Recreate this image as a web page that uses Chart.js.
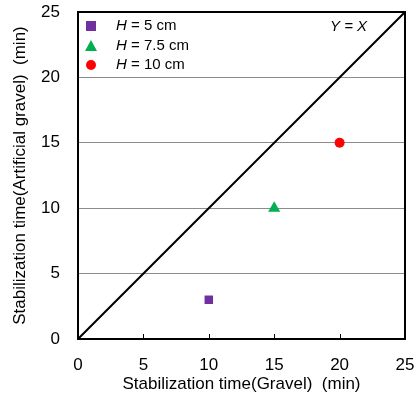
<!DOCTYPE html>
<html>
<head>
<meta charset="utf-8">
<script src="https://cdn.jsdelivr.net/npm/chart.js@4"></script>
<style>
  html, body { margin: 0; padding: 0; background: #fff; }
  #wrap { width: 417px; height: 401px; }
</style>
</head>
<body>
<div id="wrap"><canvas id="chart" width="417" height="401"></canvas></div>
<script>
const seriesLabels = ['5 cm', '7.5 cm', '10 cm'];
const gravelTimes = [10, 15, 20];
const artificialTimes = [3, 10, 15];
const seriesColors = ['#7030A0', '#00B050', '#FF0000'];
const seriesShapes = ['rect', 'triangle', 'circle'];
const seriesSizes = [6, 7, 5];
const lineX = [0, 25];
const lineY = [0, 25];
const FONT = '"Liberation Sans", Arial, sans-serif';

const datasets = seriesLabels.map((lab, i) => ({
    type: 'scatter',
    label: lab,
    data: [{ x: gravelTimes[i], y: artificialTimes[i] }],
    pointStyle: seriesShapes[i],
    pointRadius: seriesSizes[i],
    backgroundColor: seriesColors[i],
    borderColor: seriesColors[i],
    borderWidth: 0
}));
datasets.push({
    type: 'line',
    label: 'Y = X',
    data: lineX.map((x, i) => ({ x: x, y: lineY[i] })),
    borderColor: '#000',
    borderWidth: 2,
    pointRadius: 0,
    fill: false
});

const framePlugin = {
    id: 'frame',
    afterDatasetsDraw(chart) {
        const { ctx, chartArea: a, scales } = chart;
        ctx.save();
        // inner x ticks
        ctx.strokeStyle = '#000';
        ctx.lineWidth = 1;
        [5, 10, 15, 20].forEach(v => {
            const px = Math.round(scales.x.getPixelForValue(v)) + 0.5;
            ctx.beginPath();
            ctx.moveTo(px, a.bottom);
            ctx.lineTo(px, a.bottom - 5);
            ctx.stroke();
        });
        // box
        ctx.lineWidth = 2;
        ctx.strokeRect(a.left, a.top, a.right - a.left, a.bottom - a.top);

        // legend
        ctx.textBaseline = 'middle';
        const rows = [26, 46, 65];
        seriesLabels.forEach((lab, i) => {
            const y = rows[i];
            const mx = 91;
            ctx.fillStyle = seriesColors[i];
            if (seriesShapes[i] === 'rect') {
                ctx.fillRect(mx - 5, y - 5, 10, 10);
            } else if (seriesShapes[i] === 'triangle') {
                ctx.beginPath();
                ctx.moveTo(mx, y - 6);
                ctx.lineTo(mx + 6, y + 5);
                ctx.lineTo(mx - 6, y + 5);
                ctx.closePath();
                ctx.fill();
            } else {
                ctx.beginPath();
                ctx.arc(mx, y, 5, 0, Math.PI * 2);
                ctx.fill();
            }
            ctx.fillStyle = '#000';
            ctx.font = 'italic 15px ' + FONT;
            ctx.textAlign = 'left';
            ctx.fillText('H', 116, y);
            const w = ctx.measureText('H').width;
            ctx.font = '15px ' + FONT;
            ctx.fillText(' = ' + lab, 116 + w, y);
        });

        // Y = X label
        ctx.font = 'italic 15px ' + FONT;
        ctx.fillStyle = '#000';
        ctx.textAlign = 'left';
        ctx.fillText('Y = X', 330, 27);
        ctx.restore();
    }
};

new Chart(document.getElementById('chart'), {
    data: { datasets: datasets },
    options: {
        responsive: false,
        animation: false,
        layout: { padding: { top: 12, right: 12, left: 0, bottom: 0 } },
        plugins: { legend: { display: false }, tooltip: { enabled: false } },
        scales: {
            x: {
                type: 'linear',
                min: 0, max: 25,
                ticks: { stepSize: 5, color: '#000', font: { family: FONT, size: 17 }, padding: 16 },
                grid: { display: false, drawTicks: false },
                border: { display: false },
                title: { display: true, text: 'Stabilization time(Gravel)  (min)', color: '#000', font: { family: FONT, size: 17 }, padding: { top: 0, bottom: 6 } },
                afterFit(s) { s.height = 62; s.paddingLeft = 0; s.paddingRight = 0; }
            },
            y: {
                type: 'linear',
                min: 0, max: 25,
                ticks: { stepSize: 5, color: '#000', font: { family: FONT, size: 17 }, padding: 18 },
                grid: { color: '#8c8c8c', lineWidth: 1, drawTicks: false },
                border: { display: false },
                title: { display: true, text: 'Stabilization time(Artificial gravel)  (min)', color: '#000', font: { family: FONT, size: 17 }, padding: { top: 10, bottom: 0 } },
                afterFit(s) { s.width = 78; s.paddingTop = 0; s.paddingBottom = 0; }
            }
        }
    },
    plugins: [framePlugin]
});
</script>
</body>
</html>
